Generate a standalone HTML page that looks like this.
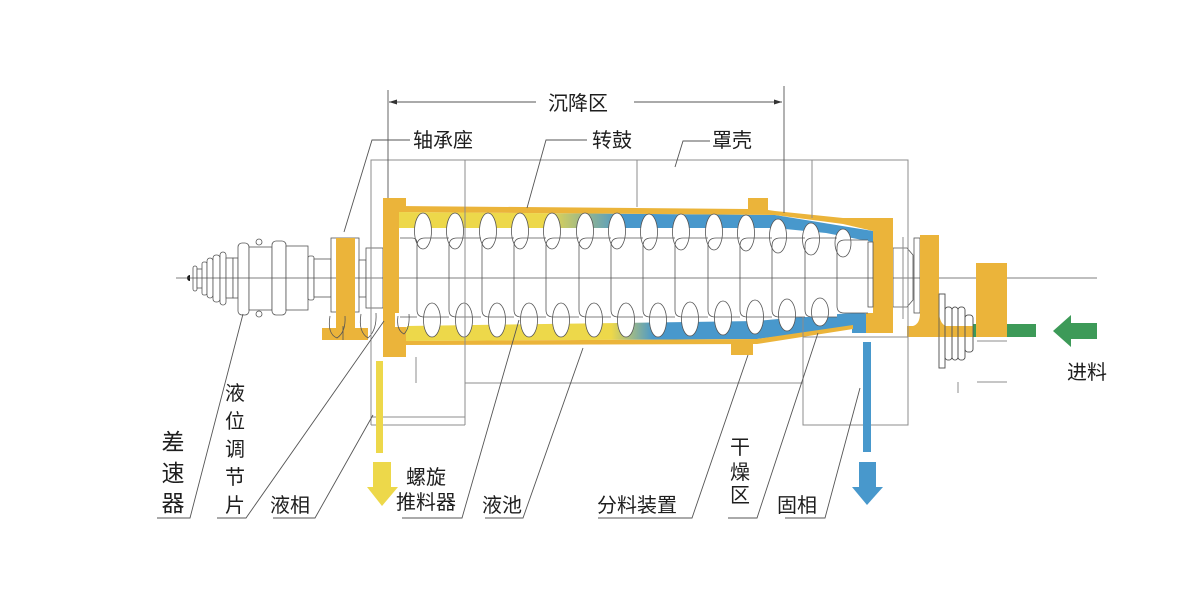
<!DOCTYPE html>
<html><head><meta charset="utf-8"><style>
html,body{margin:0;padding:0;background:#fff;}
svg{display:block;}
text{font-family:"Liberation Sans","Noto Sans CJK SC",sans-serif;fill:#1e1e1e;}
</style></head><body>
<svg width="1200" height="600" viewBox="0 0 1200 600" xmlns="http://www.w3.org/2000/svg">
<defs>
<linearGradient id="gt" gradientUnits="userSpaceOnUse" x1="399" y1="0" x2="873" y2="0">
<stop offset="0" stop-color="#EDD84A"/><stop offset="0.31" stop-color="#EDD84A"/><stop offset="0.47" stop-color="#4898CC"/><stop offset="1" stop-color="#4898CC"/>
</linearGradient>
<linearGradient id="gb" gradientUnits="userSpaceOnUse" x1="406" y1="0" x2="873" y2="0">
<stop offset="0" stop-color="#EDD84A"/><stop offset="0.44" stop-color="#EDD84A"/><stop offset="0.53" stop-color="#4898CC"/><stop offset="1" stop-color="#4898CC"/>
</linearGradient>
</defs>

<!-- left differential -->
<g fill="#fff" stroke="#555" stroke-width="0.8">
<rect x="193" y="266" width="4" height="25" rx="2"/>
<rect x="197" y="269" width="6" height="19"/>
<rect x="202" y="262" width="5" height="33" rx="2"/>
<rect x="207" y="258" width="6" height="40" rx="3"/>
<rect x="213" y="255" width="7" height="47" rx="3"/>
<rect x="220" y="252" width="6" height="53" rx="3"/>
<rect x="226" y="258" width="7" height="40"/>
<rect x="233" y="258" width="5" height="40"/>
<rect x="238" y="243" width="11" height="72" rx="4"/>
<rect x="249" y="247" width="23" height="63"/>
<circle cx="259" cy="242" r="3"/>
<circle cx="259" cy="314" r="3"/>
<rect x="272" y="241" width="14" height="74" rx="4"/>
<rect x="286" y="246" width="22" height="64"/>
<rect x="308" y="256" width="6" height="44" rx="2"/>
<rect x="314" y="259" width="17" height="38"/>
<rect x="331" y="238" width="28" height="74"/>
<rect x="359" y="260" width="7" height="37"/>
<rect x="366" y="248" width="17" height="60"/>
</g>
<path d="M190,275 A3,3 0 0 0 190,281 Z" fill="#111"/>

<!-- right end outline shapes -->
<g fill="#fff" stroke="#555" stroke-width="0.8">
<path d="M893,248 H907 L913,255 V300 L907,307 H893 Z"/>
<rect x="914" y="238" width="6" height="75"/>
<rect x="939" y="294" width="6" height="74"/>
<rect x="945" y="307" width="7" height="53" rx="3"/>
<rect x="952" y="307" width="6" height="53" rx="3"/>
<rect x="958" y="307" width="7" height="53" rx="3"/>
<rect x="965" y="315" width="8" height="37" rx="3"/>
</g>

<!-- orange bearing seats & blocks -->
<g fill="#EBB43A">
<rect x="336" y="238" width="19" height="92"/>
<rect x="322" y="328" width="46" height="12"/>
<path d="M920,235 H939 V313 Q940,324 946,326 H973 V337 H907 V326 H913 Q920,324 920,313 Z"/>
<rect x="976" y="263" width="31" height="74"/>
</g>
<rect x="973" y="324" width="3" height="13" fill="#3D9A58"/>
<rect x="1007" y="324" width="29" height="13" fill="#3D9A58"/>
<g fill="none" stroke="#555" stroke-width="0.8">
<rect x="939" y="294" width="6" height="74"/>
<rect x="945" y="307" width="7" height="53" rx="3"/>
<rect x="952" y="307" width="6" height="53" rx="3"/>
<rect x="958" y="307" width="7" height="53" rx="3"/>
<rect x="965" y="315" width="8" height="37" rx="3"/>
<path d="M330,316 Q327,334 337,338 Q346,332 345,316"/>
<path d="M361,314 Q358,332 368,338 Q377,330 376,313"/>
<line x1="343" y1="326" x2="343" y2="340"/>
</g>

<!-- drum liquid bands -->
<polygon points="399,212 775,215 873,231 873,242 826,233 775,228 399,228" fill="url(#gt)"/>
<polygon points="406,326 757,321 800,317 852,313 863,313 870,320 870,333 852,333 852,327 757,339 406,341" fill="url(#gb)"/>
<path d="M852,313 H862 Q871,313 871,322 V328 H877 V333 H855 V327 H862 V322 Q862,320 852,320 Z" fill="#4898CC"/>

<!-- drum orange walls -->
<g fill="#EBB43A">
<path d="M383,198 H406 V212 H399 V313 H395 V327 H406 V357 H383 Z"/>
<polygon points="399,206 748,209 748,198 768,198 768,210 775,211 843,218 843,224 775,215 399,212"/>
<polygon points="843,218 893,218 893,333 866,333 866,313 873,313 873,231 843,224"/>
<polygon points="406,341 757,339 853,325 853,329 757,344 406,345"/>
<rect x="731" y="341" width="22" height="14"/>
</g>

<!-- screw: white fills -->
<g fill="#fff">
<ellipse cx="423" cy="231" rx="8.5" ry="18"/><ellipse cx="455" cy="231" rx="8.5" ry="18"/>
<ellipse cx="488" cy="231" rx="8.5" ry="18"/><ellipse cx="520" cy="231" rx="8.5" ry="18"/>
<ellipse cx="552" cy="231" rx="8.5" ry="18"/><ellipse cx="585" cy="231" rx="8.5" ry="18"/>
<ellipse cx="617" cy="231" rx="8.5" ry="18"/><ellipse cx="649" cy="232" rx="8.5" ry="18"/>
<ellipse cx="681" cy="232" rx="8.5" ry="18"/><ellipse cx="714" cy="232" rx="8.5" ry="18"/>
<ellipse cx="746" cy="233" rx="8.5" ry="18"/><ellipse cx="778" cy="236" rx="8.5" ry="17"/>
<ellipse cx="811" cy="239" rx="8.5" ry="16"/><ellipse cx="843" cy="243" rx="8" ry="14"/>
<ellipse cx="432" cy="320" rx="8.5" ry="17"/><ellipse cx="464" cy="320" rx="8.5" ry="17"/>
<ellipse cx="497" cy="320" rx="8.5" ry="17"/><ellipse cx="529" cy="320" rx="8.5" ry="17"/>
<ellipse cx="561" cy="320" rx="8.5" ry="17"/><ellipse cx="594" cy="320" rx="8.5" ry="17"/>
<ellipse cx="626" cy="320" rx="8.5" ry="17"/><ellipse cx="658" cy="320" rx="8.5" ry="17"/>
<ellipse cx="690" cy="319" rx="8.5" ry="17"/><ellipse cx="723" cy="318" rx="8.5" ry="17"/>
<ellipse cx="755" cy="317" rx="8.5" ry="17"/><ellipse cx="787" cy="315" rx="8.5" ry="16"/>
<ellipse cx="820" cy="312" rx="8.5" ry="14"/>
<path d="M399,313 H407 V327 H399 Z"/>
<rect x="400" y="238" width="437" height="79"/>
<rect x="837" y="240" width="31" height="73"/>
</g>
<rect x="868" y="242" width="5" height="65" fill="#fff" stroke="#555" stroke-width="0.8"/>

<!-- screw outlines -->
<g fill="none" stroke="#555" stroke-width="0.8">
<path d="M400,238 H412 Q417,238 417,243"/>
<path d="M400,317 H417"/>
<path d="M449,238 H425 Q417,238 417,246 V310 Q417,317 424,317 H449"/>
<path d="M481,238 H457 Q449,238 449,246 V310 Q449,317 456,317 H481"/>
<path d="M514,238 H490 Q482,238 482,246 V310 Q482,317 489,317 H514"/>
<path d="M546,238 H522 Q514,238 514,246 V310 Q514,317 521,317 H546"/>
<path d="M579,238 H554 Q546,238 546,246 V310 Q546,317 553,317 H579"/>
<path d="M611,238 H587 Q579,238 579,246 V310 Q579,317 586,317 H611"/>
<path d="M643,238 H619 Q611,238 611,246 V310 Q611,317 618,317 H643"/>
<path d="M675,238 H651 Q643,238 643,246 V310 Q643,317 650,317 H675"/>
<path d="M708,238 H683 Q675,238 675,246 V310 Q675,317 682,317 H708"/>
<path d="M740,238 H716 Q708,238 708,246 V310 Q708,317 715,317 H740"/>
<path d="M772,238 H748 Q740,238 740,246 V310 Q740,317 747,317 H772"/>
<path d="M805,238 H780 Q772,238 772,246 V310 Q772,317 779,317 H805"/>
<path d="M837,238 H813 Q805,238 805,246 V310 Q805,317 812,317 H837"/>
<path d="M868,240 H845 Q837,240 837,248 V306 Q837,313 844,313 H868"/>
<ellipse cx="423" cy="231" rx="8.5" ry="18"/><ellipse cx="455" cy="231" rx="8.5" ry="18"/>
<ellipse cx="488" cy="231" rx="8.5" ry="18"/><ellipse cx="520" cy="231" rx="8.5" ry="18"/>
<ellipse cx="552" cy="231" rx="8.5" ry="18"/><ellipse cx="585" cy="231" rx="8.5" ry="18"/>
<ellipse cx="617" cy="231" rx="8.5" ry="18"/><ellipse cx="649" cy="232" rx="8.5" ry="18"/>
<ellipse cx="681" cy="232" rx="8.5" ry="18"/><ellipse cx="714" cy="232" rx="8.5" ry="18"/>
<ellipse cx="746" cy="233" rx="8.5" ry="18"/><ellipse cx="778" cy="236" rx="8.5" ry="17"/>
<ellipse cx="811" cy="239" rx="8.5" ry="16"/><ellipse cx="843" cy="243" rx="8" ry="14"/>
<ellipse cx="432" cy="320" rx="8.5" ry="17"/><ellipse cx="464" cy="320" rx="8.5" ry="17"/>
<ellipse cx="497" cy="320" rx="8.5" ry="17"/><ellipse cx="529" cy="320" rx="8.5" ry="17"/>
<ellipse cx="561" cy="320" rx="8.5" ry="17"/><ellipse cx="594" cy="320" rx="8.5" ry="17"/>
<ellipse cx="626" cy="320" rx="8.5" ry="17"/><ellipse cx="658" cy="320" rx="8.5" ry="17"/>
<ellipse cx="690" cy="319" rx="8.5" ry="17"/><ellipse cx="723" cy="318" rx="8.5" ry="17"/>
<ellipse cx="755" cy="317" rx="8.5" ry="17"/><ellipse cx="787" cy="315" rx="8.5" ry="16"/>
<ellipse cx="820" cy="312" rx="8.5" ry="14"/>
<path d="M398,316 Q396,330 404,334 Q410,328 409,314"/>
</g>

<!-- centerline -->
<g stroke="#555" stroke-width="0.8">
<line x1="176" y1="278" x2="336" y2="278"/>
<line x1="355" y1="278" x2="383" y2="278"/>
<line x1="399" y1="278" x2="873" y2="278"/>
<line x1="893" y1="278" x2="920" y2="278"/>
<line x1="939" y1="278" x2="976" y2="278"/>
<line x1="1007" y1="278" x2="1097" y2="278"/>
</g>

<!-- housing lines -->
<g stroke="#8c8c8c" stroke-width="1" fill="none">
<path d="M371,425 V160 H908 V425 H803 V317"/>
<line x1="803" y1="337" x2="908" y2="337"/>
<line x1="465" y1="160" x2="465" y2="425"/>
<line x1="371" y1="417" x2="465" y2="417"/>
<line x1="371" y1="425" x2="465" y2="425"/>
<line x1="465" y1="383" x2="803" y2="383"/>
<line x1="416" y1="357" x2="416" y2="383"/>
<line x1="637" y1="160" x2="637" y2="207"/>
<line x1="812" y1="160" x2="812" y2="218"/>
<line x1="903" y1="237" x2="903" y2="319"/>
<line x1="977" y1="341" x2="1007" y2="341"/>
<line x1="977" y1="382" x2="1007" y2="382"/>
<line x1="958" y1="382" x2="958" y2="393"/>
</g>
<g stroke="#555" stroke-width="0.9" fill="none">
<line x1="388" y1="90" x2="388" y2="198"/>
<line x1="784" y1="86" x2="784" y2="213"/>
<line x1="389" y1="102" x2="536" y2="102"/>
<line x1="634" y1="102" x2="782" y2="102"/>
</g>
<polygon points="389,102 397,99.5 397,104.5" fill="#333"/>
<polygon points="782,102 774,99.5 774,104.5" fill="#333"/>

<!-- leaders -->
<g stroke="#555" stroke-width="0.9" fill="none">
<polyline points="410,140 372,140 344,232"/>
<polyline points="587,140 546,140 527,208"/>
<polyline points="710,141 683,141 675,167"/>
<polyline points="157,518 190,518 243,314"/>
<polyline points="217,518 246,518 384,321"/>
<polyline points="273,518 315,518 373,415"/>
<polyline points="402,518 462,518 519,320"/>
<polyline points="485,518 523,518 583,348"/>
<polyline points="598,518 692,518 748,355"/>
<polyline points="728,518 757,518 818,333"/>
<polyline points="785,518 825,518 860,388"/>
</g>

<!-- arrows -->
<g fill="#EDD84A">
<rect x="376" y="361" width="7" height="92"/>
<rect x="373" y="462" width="18" height="26"/>
<polygon points="367,487 398,487 382,506"/>
</g>
<g fill="#4898CC">
<rect x="863" y="342" width="8" height="110"/>
<rect x="859" y="462" width="17" height="26"/>
<polygon points="852,487 883,487 867,505"/>
</g>
<polygon points="1053,331 1071,315 1071,323 1097,323 1097,339 1071,339 1071,347" fill="#3D9A58"/>

<!-- text -->
<g font-size="20" text-anchor="middle">
<text x="578" y="110">沉降区</text>
<text x="443" y="147">轴承座</text>
<text x="612" y="147">转鼓</text>
<text x="732" y="147">罩壳</text>
<text x="235" y="400">液</text>
<text x="235" y="428">位</text>
<text x="235" y="456">调</text>
<text x="235" y="484">节</text>
<text x="235" y="512">片</text>
<text x="290" y="512">液相</text>
<text x="426" y="484">螺旋</text>
<text x="426" y="509">推料器</text>
<text x="502" y="512">液池</text>
<text x="637" y="512">分料装置</text>
<text x="740" y="454">干</text>
<text x="740" y="479">燥</text>
<text x="740" y="502">区</text>
<text x="797" y="512">固相</text>
<text x="1087" y="379">进料</text>
</g>
<g font-size="23" text-anchor="middle">
<text x="173" y="450">差</text>
<text x="173" y="481">速</text>
<text x="173" y="511">器</text>
</g>
</svg>
</body></html>
